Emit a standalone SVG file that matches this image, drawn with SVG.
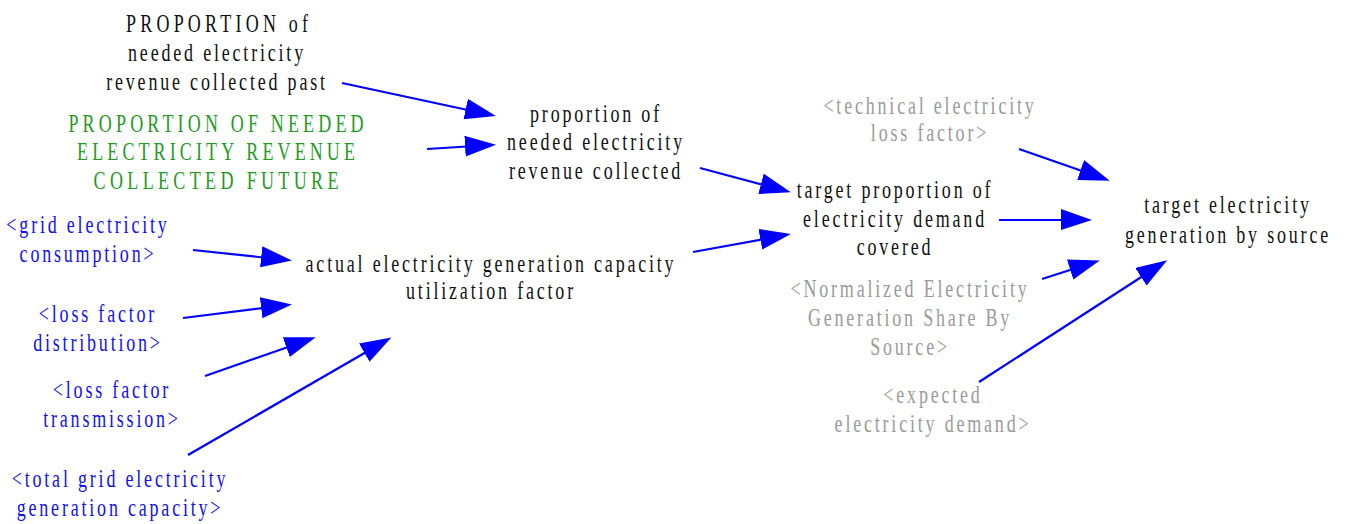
<svg xmlns="http://www.w3.org/2000/svg" width="1348" height="524" viewBox="0 0 1348 524">
<defs>
<style>
text{font-family:"Liberation Serif","Times New Roman",serif;font-size:25px;text-anchor:middle;letter-spacing:3.9px}
.k{fill:#111111}
.g{fill:#239b23}
.b{fill:#1010f5}
.r{fill:#9a9a9a}
.fit{letter-spacing:0}
.c line{stroke:#0000ff;stroke-width:2.2;marker-end:url(#ah)}
</style>
<marker id="ah" markerUnits="userSpaceOnUse" markerWidth="32" markerHeight="22" viewBox="0 0 32 22" refX="26" refY="11" orient="auto">
<path d="M0,0 L31,11 L0,21 Z" fill="#0000ff"/>
</marker>
</defs>
<g id="past" transform="translate(217,0) scale(0.72,1)">
<text class="k fit" x="0" y="32" textLength="253" lengthAdjust="spacing">PROPORTION of</text>
<text class="k" x="0" y="61">needed electricity</text>
<text class="k" x="0" y="90">revenue collected past</text>
</g>
<g id="future" transform="translate(216,0) scale(0.72,1)">
<text class="g fit" x="0" y="132" textLength="410" lengthAdjust="spacing">PROPORTION OF NEEDED</text>
<text class="g fit" x="0" y="160.5" textLength="386" lengthAdjust="spacing">ELECTRICITY REVENUE</text>
<text class="g fit" x="0" y="189" textLength="340" lengthAdjust="spacing">COLLECTED FUTURE</text>
</g>
<g id="proportion" transform="translate(596,0) scale(0.72,1)">
<text class="k" x="0" y="122">proportion of</text>
<text class="k" x="0" y="150">needed electricity</text>
<text class="k" x="0" y="179">revenue collected</text>
</g>
<g id="actual" transform="translate(491,0) scale(0.72,1)">
<text class="k" x="0" y="272">actual electricity generation capacity</text>
<text class="k" x="0" y="299">utilization factor</text>
</g>
<g id="gridcons" transform="translate(88,0) scale(0.72,1)">
<text class="b" x="0" y="233">&lt;grid electricity</text>
<text class="b" x="0" y="262">consumption&gt;</text>
</g>
<g id="lossdist" transform="translate(98,0) scale(0.72,1)">
<text class="b" x="0" y="322">&lt;loss factor</text>
<text class="b" x="0" y="351">distribution&gt;</text>
</g>
<g id="losstrans" transform="translate(112,0) scale(0.72,1)">
<text class="b" x="0" y="398">&lt;loss factor</text>
<text class="b" x="0" y="427">transmission&gt;</text>
</g>
<g id="totalcap" transform="translate(120,0) scale(0.72,1)">
<text class="b" x="0" y="487">&lt;total grid electricity</text>
<text class="b" x="0" y="516">generation capacity&gt;</text>
</g>
<g id="targetprop" transform="translate(895,0) scale(0.72,1)">
<text class="k" x="0" y="198">target proportion of</text>
<text class="k" x="0" y="227">electricity demand</text>
<text class="k" x="0" y="255">covered</text>
</g>
<g id="techloss" transform="translate(930,0) scale(0.72,1)">
<text class="r" x="0" y="114">&lt;technical electricity</text>
<text class="r" x="0" y="141">loss factor&gt;</text>
</g>
<g id="targetgen" transform="translate(1228,0) scale(0.72,1)">
<text class="k" x="0" y="213">target electricity</text>
<text class="k" x="0" y="243">generation by source</text>
</g>
<g id="normshare" transform="translate(910,0) scale(0.72,1)">
<text class="r" x="0" y="297">&lt;Normalized Electricity</text>
<text class="r" x="0" y="326">Generation Share By</text>
<text class="r" x="0" y="355">Source&gt;</text>
</g>
<g id="expdemand" transform="translate(933,0) scale(0.72,1)">
<text class="r" x="0" y="403">&lt;expected</text>
<text class="r" x="0" y="432">electricity demand&gt;</text>
</g>
<g id="connectors" class="c">
<line x1="342" y1="83" x2="491" y2="115"/>
<line x1="427" y1="149" x2="491" y2="145"/>
<line x1="700" y1="168" x2="786" y2="191"/>
<line x1="693" y1="252" x2="786" y2="235"/>
<line x1="193" y1="250" x2="287" y2="260"/>
<line x1="183" y1="318" x2="287" y2="305"/>
<line x1="205" y1="376" x2="311" y2="339"/>
<line x1="188" y1="455" x2="387" y2="340"/>
<line x1="1019" y1="149" x2="1105" y2="179"/>
<line x1="999" y1="220" x2="1087" y2="220"/>
<line x1="1042" y1="279" x2="1095" y2="262"/>
<line x1="979" y1="382" x2="1163" y2="263"/>
</g>
</svg>
